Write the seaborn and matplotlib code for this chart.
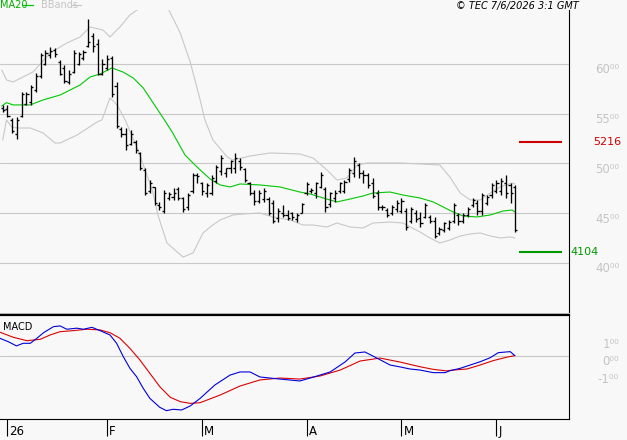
import numpy as np
import pandas as pd
import matplotlib
matplotlib.use("Agg")
import matplotlib.pyplot as plt
import seaborn as sns
from matplotlib.transforms import ScaledTranslation, blended_transform_factory
from matplotlib.lines import Line2D

# ---------------- data ----------------
high = [5587, 5587, 5454, 5464, 5721, 5721, 5789, 5906, 6107, 6141, 6174, 6158, 6040, 5990, 5940, 6141,
        6124, 6141, 6450, 6316, 6249, 6047, 6090, 6080, 5822, 5370, 5353, 5336, 5236, 5118, 4951, 4833,
        4766, 4615, 4733, 4716, 4749, 4766, 4666, 4699, 4900, 4900, 4816, 4800, 4883, 4984, 5084, 4950,
        5034, 5101, 5050, 4950, 4816, 4733, 4733, 4749, 4666, 4632, 4548, 4582, 4532, 4515, 4498, 4599,
        4816, 4749, 4816, 4916, 4766, 4716, 4733, 4816, 4833, 4950, 5067, 5000, 4934, 4900, 4850, 4733,
        4582, 4548, 4582, 4632, 4649, 4548, 4565, 4532, 4515, 4599, 4482, 4465, 4364, 4415, 4431, 4599,
        4505, 4498, 4565, 4649, 4632, 4699, 4683, 4800, 4833, 4850, 4883, 4800, 4783]
low = [5520, 5464, 5303, 5242, 5470, 5587, 5587, 5721, 5856, 5990, 6057, 6074, 5889, 5806, 5799, 5906,
       5990, 6040, 6174, 6124, 5889, 5889, 5940, 5671, 5353, 5269, 5135, 5185, 5102, 4934, 4683, 4699,
       4582, 4532, 4498, 4632, 4632, 4632, 4515, 4532, 4699, 4800, 4683, 4666, 4683, 4800, 4883, 4866,
       4900, 4900, 4934, 4816, 4683, 4582, 4599, 4615, 4482, 4398, 4415, 4465, 4431, 4431, 4415, 4498,
       4683, 4699, 4649, 4749, 4515, 4565, 4615, 4699, 4699, 4816, 4866, 4850, 4800, 4749, 4649, 4532,
       4532, 4465, 4482, 4515, 4498, 4330, 4398, 4415, 4364, 4448, 4398, 4247, 4280, 4314, 4330, 4398,
       4381, 4398, 4465, 4565, 4482, 4482, 4582, 4649, 4699, 4683, 4649, 4599, 4314]
open_ = [5560, 5550, 5440, 5300, 5480, 5600, 5620, 5740, 5880, 6000, 6090, 6140, 6020, 5960, 5820, 5920,
         6000, 6060, 6180, 6280, 6200, 5900, 5960, 6060, 5780, 5350, 5300, 5200, 5220, 5100, 4930, 4720,
         4760, 4580, 4520, 4650, 4660, 4740, 4650, 4560, 4720, 4880, 4800, 4700, 4700, 4820, 4920, 4900,
         4950, 4950, 5020, 4940, 4800, 4700, 4620, 4640, 4640, 4600, 4450, 4500, 4480, 4500, 4440, 4500,
         4700, 4720, 4700, 4760, 4740, 4590, 4650, 4720, 4720, 4840, 4900, 4980, 4900, 4880, 4800, 4700,
         4560, 4530, 4500, 4540, 4520, 4520, 4420, 4500, 4450, 4460, 4460, 4420, 4300, 4330, 4350, 4420,
         4480, 4420, 4480, 4580, 4600, 4520, 4600, 4680, 4720, 4720, 4800, 4780, 4760]
close = [5540, 5480, 5330, 5440, 5700, 5700, 5770, 5880, 6090, 6110, 6130, 6100, 5900, 5830, 5900, 6110,
         6100, 6120, 6220, 6180, 5900, 6000, 6050, 5700, 5380, 5300, 5180, 5300, 5130, 4950, 4700, 4800,
         4600, 4560, 4700, 4690, 4700, 4650, 4540, 4680, 4880, 4870, 4720, 4780, 4850, 4960, 5050, 4950,
         5020, 5050, 4960, 4830, 4700, 4620, 4700, 4720, 4500, 4420, 4520, 4480, 4450, 4460, 4480, 4590,
         4790, 4730, 4800, 4880, 4560, 4700, 4700, 4800, 4810, 4930, 5020, 4900, 4880, 4780, 4670, 4560,
         4560, 4480, 4560, 4600, 4620, 4360, 4540, 4440, 4400, 4580, 4420, 4270, 4340, 4400, 4410, 4580,
         4420, 4480, 4540, 4630, 4520, 4680, 4660, 4780, 4800, 4820, 4700, 4700, 4330]

ma_x = [-0.2, 0.8, 2.2, 5.8, 8.5, 12.1, 14.2, 16.3, 18.4, 20.5, 23.0, 25.3, 27.5, 29.6, 31.7, 33.8, 35.7,
        38.4, 40.5, 41.6, 43.7, 45.8, 47.9, 50.0, 54.2, 58.4, 62.6, 64.8, 67.5, 70.4, 73.2, 75.9, 78.0,
        81.6, 84.3, 87.9, 90.7, 94.9, 97.0, 99.9, 102.7, 105.4, 107.3, 107.9]
ma_v = [5577, 5611, 5588, 5588, 5638, 5688, 5738, 5789, 5869, 5899, 5960, 5920, 5859, 5759, 5608, 5457,
        5316, 5085, 4984, 4934, 4843, 4783, 4763, 4793, 4783, 4763, 4712, 4692, 4652, 4612, 4642, 4672,
        4702, 4712, 4682, 4652, 4612, 4511, 4471, 4461, 4481, 4521, 4531, 4511]

up_x = [-0.2, 0.8, 2.2, 6.4, 10.0, 13.5, 16.3, 18.4, 21.1, 22.6, 24.7, 26.8, 28.9, 31.9, 34.8, 37.4, 39.5,
        41.6, 42.6, 44.3, 47.3, 48.5, 52.1, 56.3, 62.6, 65.4, 68.3, 70.4, 72.5, 74.7, 76.8, 79.5, 83.7,
        87.9, 92.1, 94.2, 96.4, 98.5, 100.6, 102.7, 104.8, 107.3, 107.9]
up_v = [5940, 5839, 5819, 5920, 6111, 6211, 6272, 6372, 6342, 6272, 6372, 6493, 6563, 6680, 6563, 6312,
        6020, 5638, 5437, 5235, 5064, 5034, 5074, 5105, 5095, 5054, 4934, 4833, 4853, 4984, 5004, 5004,
        5004, 4994, 4984, 4863, 4702, 4632, 4632, 4702, 4763, 4803, 4793]

lo_x = [0.0, 0.8, 1.9, 2.9, 5.8, 8.5, 11.0, 12.1, 15.7, 19.9, 20.9, 22.6, 24.1, 25.8, 28.5, 30.0, 31.5,
        32.7, 34.6, 38.0, 40.1, 42.2, 43.7, 45.8, 48.5, 50.6, 54.2, 56.9, 60.5, 63.3, 65.4, 68.3, 70.4,
        73.2, 75.9, 78.0, 81.6, 84.3, 87.9, 90.0, 92.1, 94.2, 96.4, 98.5, 100.6, 102.7, 104.8, 106.9, 107.9]
lo_v = [5235, 5437, 5366, 5356, 5356, 5306, 5205, 5205, 5286, 5417, 5437, 5658, 5588, 5437, 5135, 4934,
        4732, 4481, 4199, 4058, 4099, 4300, 4360, 4431, 4481, 4491, 4501, 4461, 4431, 4380, 4380, 4360,
        4400, 4360, 4350, 4400, 4410, 4400, 4310, 4250, 4199, 4229, 4270, 4290, 4300, 4270, 4250, 4260, 4250]

macd_x = [-0.6, 1.2, 2.9, 4.3, 5.8, 7.2, 8.6, 10.7, 12.1, 13.5, 15.6, 17.0, 18.8, 20.5, 22.6, 24.0, 25.4,
          26.8, 28.2, 29.6, 31.0, 33.1, 34.5, 35.9, 37.7, 39.5, 41.6, 44.7, 47.9, 50.0, 52.1, 54.2, 58.4,
          62.6, 64.8, 69.0, 72.1, 74.2, 76.3, 78.4, 81.6, 83.7, 85.8, 87.9, 90.7, 93.2, 94.2, 96.4, 98.5,
          100.6, 102.7, 104.4, 106.9, 107.9]
macd_v = [102, 82, 58, 73, 73, 102, 134, 169, 173, 154, 160, 154, 165, 146, 121, 73, -4, -71, -119, -186,
          -244, -296, -315, -307, -311, -288, -244, -167, -110, -92, -92, -121, -133, -144, -127, -92, -35,
          17, 23, -6, -52, -63, -75, -81, -96, -96, -85, -71, -52, -33, -10, 19, 25, 2]

sig_x = [-0.6, 2.2, 5.1, 7.9, 10.0, 12.1, 14.9, 17.7, 20.5, 22.6, 24.7, 26.8, 28.9, 31.0, 33.1, 35.3, 37.4,
         39.5, 41.6, 45.8, 50.0, 54.2, 58.4, 62.6, 66.9, 71.1, 75.3, 79.5, 83.7, 87.9, 90.7, 93.5, 94.9,
         97.8, 100.6, 103.3, 106.2, 107.9]
sig_v = [137, 108, 88, 96, 121, 140, 146, 154, 150, 134, 102, 44, -23, -100, -177, -238, -263, -273, -269,
         -225, -173, -138, -127, -133, -115, -81, -29, -12, -35, -62, -77, -86, -81, -75, -52, -27, -7, 2]

month_ticks = [1, 22, 42, 64, 84, 104]
month_labels = ["26", "F", "M", "A", "M", "J"]
price_ticks = [4000, 4500, 5000, 5500, 6000]
price_labels = ["40⁰⁰", "45⁰⁰", "50⁰⁰", "55⁰⁰", "60⁰⁰"]
macd_ticks = [100, 0, -100]
macd_labels = ["1⁰⁰", "0⁰⁰", "-1⁰⁰"]
resistance = 5216
support = 4104

# ---------------- style ----------------
sns.set_style("white")
plt.rcParams["font.family"] = ["DejaVu Sans"]
BG = "#f8f8f8"
GRID = "#c8c8c8"
LBL = "#c4c4c4"

W, H = 627, 440
fig = plt.figure(figsize=(W / 100, H / 100), dpi=100, facecolor=BG)


def fx(px):
    return px / W


def fy(py):
    return 1 - py / H


ax = fig.add_axes([0, fy(313), fx(569), fy(10) - fy(313)], facecolor=BG)
ax2 = fig.add_axes([0, fy(419), fx(569), fy(315) - fy(419)], facecolor=BG, sharex=ax)

idx = np.arange(len(close))
df = pd.DataFrame({"i": idx, "o": open_, "h": high, "l": low, "c": close})

# OHLC bars
ax.vlines(df["i"], df["l"], df["h"], color="black", lw=0.95, zorder=4)
ax.hlines(df["o"], df["i"] - 0.45, df["i"], color="black", lw=0.95, zorder=4)
ax.hlines(df["c"], df["i"], df["i"] + 0.45, color="black", lw=0.95, zorder=4)

sns.lineplot(x=up_x, y=up_v, ax=ax, color="#c8c8c8", lw=0.8, legend=False, zorder=2)
sns.lineplot(x=lo_x, y=lo_v, ax=ax, color="#c8c8c8", lw=0.8, legend=False, zorder=2)
sns.lineplot(x=ma_x, y=ma_v, ax=ax, color="#00c800", lw=0.8, legend=False, zorder=3)

# support / resistance
ax.hlines(resistance, 108.8, 117.8, color="#cc0000", lw=1.5, zorder=3)
ax.hlines(support, 108.8, 117.8, color="#009900", lw=1.5, zorder=3)
bt = blended_transform_factory(ax.transAxes, ax.transData)
ax.text(593 / 569, resistance, str(resistance), transform=bt, color="#cc0000", fontsize=8,
        ha="left", va="center", clip_on=False)
ax.text(570 / 569, support, str(support), transform=bt, color="#009900", fontsize=8,
        ha="left", va="center", clip_on=False)

ax.set_xlim(-0.57, 119.3)
ax.set_ylim(3495, 6543)
ax.set_yticks(price_ticks)
ax.set_yticklabels(price_labels)
ax.grid(axis="y", color=GRID, lw=0.8)
ax.grid(axis="x", visible=False)
ax.set_axisbelow(True)
ax.yaxis.tick_right()
ax.tick_params(axis="y", length=0, pad=36, labelsize=8.5, labelcolor=LBL)
ax.tick_params(axis="x", bottom=False, labelbottom=False)
for lab in ax.get_yticklabels():
    lab.set_horizontalalignment("right")
    lab.set_transform(lab.get_transform() + ScaledTranslation(0, -4.5 / 100, fig.dpi_scale_trans))
for s in ["top", "left"]:
    ax.spines[s].set_visible(False)
ax.spines["bottom"].set_color(GRID)
ax.spines["bottom"].set_linewidth(0.8)
ax.spines["right"].set_color("black")
ax.spines["right"].set_linewidth(0.8)
ax.set_xlabel("")
ax.set_ylabel("")

# MACD panel
ax2.axhline(0, color=GRID, lw=0.8, zorder=1)
sns.lineplot(x=sig_x, y=sig_v, ax=ax2, color="#dd0000", lw=0.8, legend=False, zorder=3)
sns.lineplot(x=macd_x, y=macd_v, ax=ax2, color="#0000dd", lw=0.8, legend=False, zorder=4)
ax2.set_ylim(-363, 236)
ax2.set_yticks(macd_ticks)
ax2.set_yticklabels(macd_labels)
ax2.yaxis.tick_right()
ax2.tick_params(axis="y", length=0, pad=36, labelsize=8.5, labelcolor=LBL)
for lab in ax2.get_yticklabels():
    lab.set_horizontalalignment("right")
    lab.set_transform(lab.get_transform() + ScaledTranslation(0, -4.5 / 100, fig.dpi_scale_trans))
ax2.set_xticks(month_ticks)
ax2.set_xticklabels(month_labels)
ax2.tick_params(axis="x", bottom=True, direction="out", length=12.5, width=0.8, color="black",
                labelsize=8.5, labelcolor="black", pad=-8.5)
for lab in ax2.get_xticklabels():
    lab.set_horizontalalignment("left")
    lab.set_transform(lab.get_transform() + ScaledTranslation(2 / 100, 0, fig.dpi_scale_trans))
ax2.spines["left"].set_visible(False)
ax2.spines["top"].set_color("black")
ax2.spines["top"].set_linewidth(1.6)
ax2.spines["bottom"].set_color("black")
ax2.spines["bottom"].set_linewidth(0.8)
ax2.spines["right"].set_color("black")
ax2.spines["right"].set_linewidth(0.8)
ax2.set_xlabel("")
ax2.set_ylabel("")
ax2.text(3 / 569, 1 - 12 / 104, "MACD", transform=ax2.transAxes, fontsize=7, color="black",
         ha="left", va="center")

# header texts
fig.text(fx(0), fy(5.5), "MA20", color="#00b000", fontsize=7, ha="left", va="center")
fig.add_artist(Line2D([fx(23), fx(33)], [fy(5), fy(5)], color="#00c800", lw=0.9))
fig.text(fx(41), fy(5.5), "BBands", color="#c4c4c4", fontsize=7, ha="left", va="center")
fig.add_artist(Line2D([fx(72), fx(81)], [fy(5), fy(5)], color="#c8c8c8", lw=0.9))
fig.text(fx(456), fy(5.5), "© TEC 7/6/2026 3:1 GMT", color="black", fontsize=7, style="italic",
         ha="left", va="center")

fig.savefig("out.png", dpi=100, facecolor=BG)
